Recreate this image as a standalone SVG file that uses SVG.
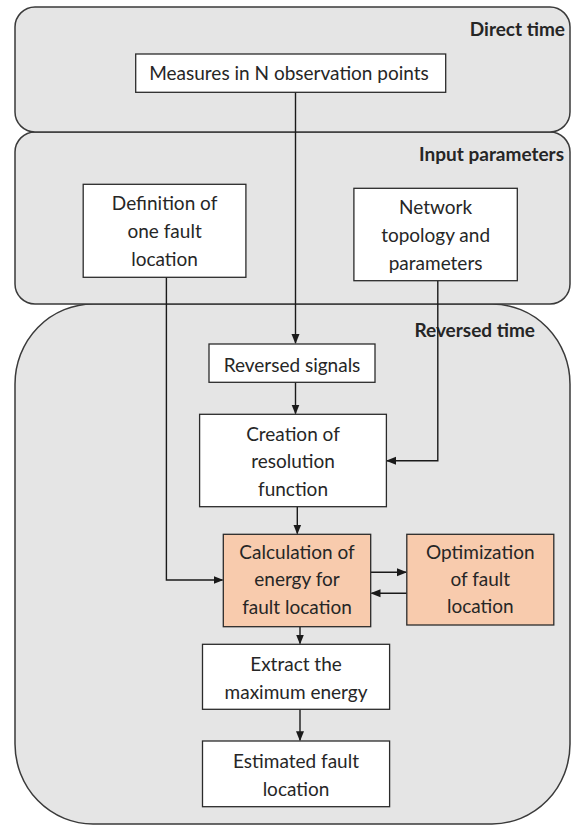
<svg xmlns="http://www.w3.org/2000/svg" width="572" height="826" viewBox="0 0 572 826">
<style>
.panel{fill:#e5e5e5;stroke:#3a3a3a;stroke-width:1.5}
.box{fill:#ffffff;stroke:#2b2b2b;stroke-width:1.3}
.hl{fill:#f8cbad;stroke:#2b2b2b;stroke-width:1.3}
text{font-family:Lato,"Liberation Sans",sans-serif;font-size:19px;fill:#262626}
.t{text-anchor:middle}
.title{font-weight:bold;text-anchor:end}
.c{fill:none;stroke:#1a1a1a;stroke-width:1.4}
</style>
<defs>
<marker id="ah" markerWidth="10" markerHeight="10" refX="9" refY="5" orient="auto" markerUnits="userSpaceOnUse">
<path d="M0,1 L10,5 L0,9 Z" fill="#1a1a1a"/>
</marker>
</defs>
<g id="panel-reversed">
<rect class="panel" x="15" y="304" width="555" height="520" rx="78" ry="80"/>
<text class="title" x="535" y="337">Reversed time</text>
</g>
<g id="panel-input">
<rect class="panel" x="15" y="132" width="555" height="172" rx="20" ry="20"/>
<text class="title" x="564" y="161">Input parameters</text>
</g>
<g id="panel-direct">
<rect class="panel" x="15" y="7" width="555" height="125" rx="20" ry="20"/>
<text class="title" x="565" y="36">Direct time</text>
</g>
<g id="connectors">
<path class="c" d="M295.5,92 V343" marker-end="url(#ah)"/>
<path class="c" d="M166.4,277 V580 H222.5" marker-end="url(#ah)"/>
<path class="c" d="M437.8,281 V460.7 H387" marker-end="url(#ah)"/>
<path class="c" d="M295.5,382 V413.5" marker-end="url(#ah)"/>
<path class="c" d="M297.3,507 V533.5" marker-end="url(#ah)"/>
<path class="c" d="M370.7,572.3 H406" marker-end="url(#ah)"/>
<path class="c" d="M406.8,593.3 H371.5" marker-end="url(#ah)"/>
<path class="c" d="M300,627 V643.5" marker-end="url(#ah)"/>
<path class="c" d="M300,709.3 V740.2" marker-end="url(#ah)"/>
</g>
<g id="node-measures">
<rect class="box" x="135.7" y="54" width="310" height="38.3"/>
<text class="t" x="289" y="80">Measures in N observation points</text>
</g>
<g id="node-definition">
<rect class="box" x="83.2" y="184.3" width="162.7" height="93"/>
<text class="t" x="164.6" y="210">Definition of</text>
<text class="t" x="164.6" y="238">one fault</text>
<text class="t" x="164.6" y="266">location</text>
</g>
<g id="node-network">
<rect class="box" x="353.9" y="188.3" width="163.4" height="92.4"/>
<text class="t" x="435.6" y="214">Network</text>
<text class="t" x="435.6" y="242">topology and</text>
<text class="t" x="435.6" y="270">parameters</text>
</g>
<g id="node-reversed-signals">
<rect class="box" x="209" y="344" width="166" height="38.3"/>
<text class="t" x="292" y="372">Reversed signals</text>
</g>
<g id="node-creation">
<rect class="box" x="199.6" y="414.3" width="186.8" height="92.4"/>
<text class="t" x="293" y="441">Creation of</text>
<text class="t" x="293" y="468">resolution</text>
<text class="t" x="293" y="496">function</text>
</g>
<g id="node-calculation">
<rect class="hl" x="223.3" y="534.3" width="147.4" height="92.4"/>
<text class="t" x="297" y="559">Calculation of</text>
<text class="t" x="297" y="586">energy for</text>
<text class="t" x="297" y="614">fault location</text>
</g>
<g id="node-optimization">
<rect class="hl" x="406.8" y="534.3" width="147" height="90.7"/>
<text class="t" x="480.3" y="559">Optimization</text>
<text class="t" x="480.3" y="586">of fault</text>
<text class="t" x="480.3" y="613">location</text>
</g>
<g id="node-extract">
<rect class="box" x="202.5" y="644.3" width="187.1" height="65"/>
<text class="t" x="296" y="671">Extract the</text>
<text class="t" x="296" y="699">maximum energy</text>
</g>
<g id="node-estimated">
<rect class="box" x="202.5" y="741" width="187.1" height="65.7"/>
<text class="t" x="296" y="768">Estimated fault</text>
<text class="t" x="296" y="796">location</text>
</g>
</svg>
